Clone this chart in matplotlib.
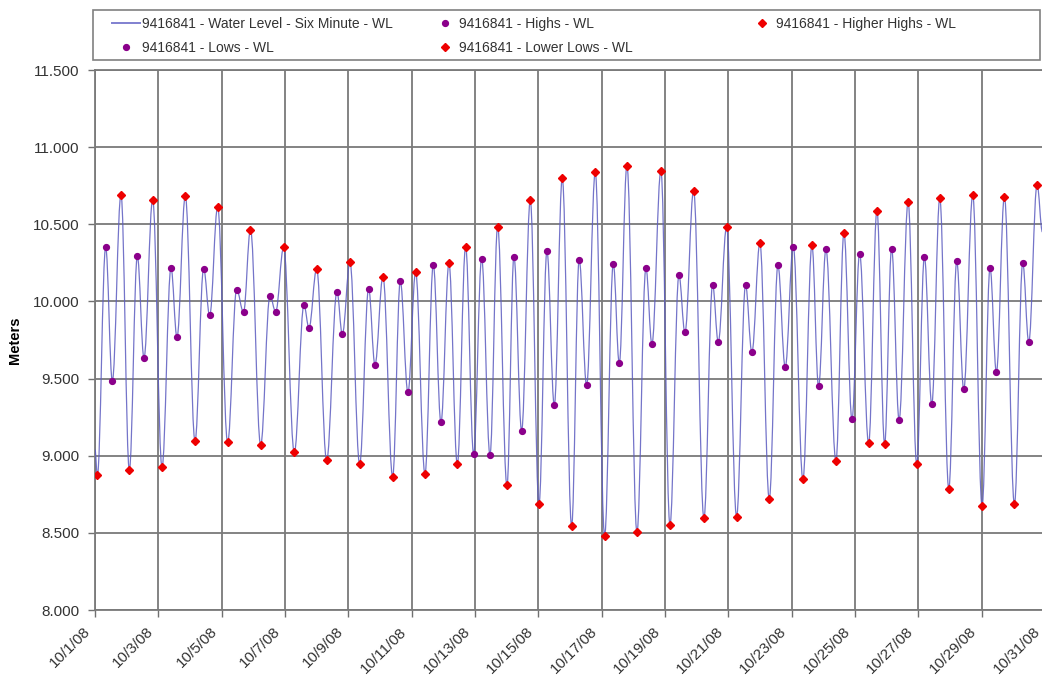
import matplotlib
matplotlib.use('Agg')
import matplotlib.pyplot as plt
import matplotlib.transforms as mtransforms
from matplotlib.path import Path
from matplotlib.patches import PathPatch, Rectangle
from matplotlib.lines import Line2D

plt.rcParams['font.family'] = ['Liberation Sans', 'DejaVu Sans']

# tide extremes, station 9416841, October 2008
# day = day of month (fractional), level in meters
tide_day = [
    1.074, 1.337, 1.547, 1.821, 2.084, 2.337, 2.547, 2.821, 3.116, 3.400,
    3.589, 3.852, 4.158, 4.431, 4.621, 4.873, 5.189, 5.473, 5.690, 5.910,
    6.231, 6.526, 6.705, 6.957, 7.294, 7.599, 7.757, 8.000, 8.315, 8.641,
    8.810, 9.052, 9.357, 9.641, 9.841, 10.094, 10.399, 10.641, 10.883, 11.125,
    11.420, 11.683, 11.925, 12.178, 12.441, 12.704, 12.957, 13.210, 13.473, 13.715,
    14.009, 14.230, 14.472, 14.746, 15.020, 15.272, 15.504, 15.756, 16.051, 16.290,
    16.525, 16.798, 17.093, 17.367, 17.556, 17.798, 18.114, 18.398, 18.587, 18.871,
    19.156, 19.440, 19.630, 19.903, 20.229, 20.503, 20.682, 20.945, 21.260, 21.544,
    21.744, 21.997, 22.292, 22.566, 22.797, 23.050, 23.355, 23.640, 23.850, 24.082,
    24.398, 24.651, 24.904, 25.146, 25.430, 25.693, 25.935, 26.156, 26.393, 26.677,
    26.950, 27.192, 27.424, 27.677, 27.961, 28.213, 28.434, 28.718, 29.013, 29.265,
    29.465, 29.718, 30.034, 30.297, 30.487, 30.750,
]
tide_level = [
    8.872, 10.350, 9.486, 10.692, 8.908, 10.292, 9.635, 10.659, 8.926, 10.216,
    9.769, 10.683, 9.096, 10.212, 9.909, 10.612, 9.086, 10.076, 9.931, 10.465,
    9.070, 10.037, 9.933, 10.350, 9.021, 9.976, 9.829, 10.210, 8.969, 10.063,
    9.788, 10.253, 8.947, 10.082, 9.591, 10.160, 8.865, 10.130, 9.410, 10.188,
    8.882, 10.236, 9.217, 10.246, 8.945, 10.352, 9.012, 10.277, 9.006, 10.484,
    8.807, 10.290, 9.163, 10.655, 8.686, 10.326, 9.328, 10.798, 8.545, 10.270,
    9.457, 10.837, 8.482, 10.244, 9.600, 10.880, 8.504, 10.216, 9.725, 10.847,
    8.552, 10.169, 9.799, 10.718, 8.595, 10.108, 9.738, 10.482, 8.606, 10.104,
    9.671, 10.378, 8.720, 10.233, 9.574, 10.355, 8.848, 10.363, 9.449, 10.337,
    8.967, 10.443, 9.237, 10.309, 9.081, 10.588, 9.077, 10.342, 9.233, 10.642,
    8.945, 10.288, 9.334, 10.668, 8.785, 10.259, 9.431, 10.690, 8.675, 10.216,
    9.542, 10.679, 8.686, 10.249, 9.738, 10.757,
]
# H = high, L = low, HH = higher high, LL = lower low
tide_kind = [
    'LL', 'H', 'L', 'HH', 'LL', 'H', 'L', 'HH', 'LL', 'H',
    'L', 'HH', 'LL', 'H', 'L', 'HH', 'LL', 'H', 'L', 'HH',
    'LL', 'H', 'L', 'HH', 'LL', 'H', 'L', 'HH', 'LL', 'H',
    'L', 'HH', 'LL', 'H', 'L', 'HH', 'LL', 'H', 'L', 'HH',
    'LL', 'H', 'L', 'HH', 'LL', 'HH', 'L', 'H', 'L', 'HH',
    'LL', 'H', 'L', 'HH', 'LL', 'H', 'L', 'HH', 'LL', 'H',
    'L', 'HH', 'LL', 'H', 'L', 'HH', 'LL', 'H', 'L', 'HH',
    'LL', 'H', 'L', 'HH', 'LL', 'H', 'L', 'HH', 'LL', 'H',
    'L', 'HH', 'LL', 'H', 'L', 'H', 'LL', 'HH', 'L', 'H',
    'LL', 'HH', 'L', 'H', 'LL', 'HH', 'LL', 'H', 'L', 'HH',
    'LL', 'H', 'L', 'HH', 'LL', 'H', 'L', 'HH', 'LL', 'H',
    'L', 'HH', 'LL', 'H', 'L', 'HH',
]

# first and last six-minute readings shown
wl_first = (1.00, 9.04)
wl_last = (30.92, 10.45)

station = '9416841'
tick_days = list(range(1, 32, 2))
tick_labels = ['10/%d/08' % d for d in tick_days]
y_ticks = [8.0, 8.5, 9.0, 9.5, 10.0, 10.5, 11.0, 11.5]

W, H = 1042, 676
fig = plt.figure(figsize=(W / 100, H / 100), dpi=100)
ax = fig.add_axes([95 / W, (H - 610) / H, (1045 - 95) / W, 540 / H])

# smooth water-level trace through the extremes (bezier, flat at each turn)
xs = [wl_first[0]] + tide_day + [wl_last[0]]
ys = [wl_first[1]] + tide_level + [wl_last[1]]
verts = [(xs[0], ys[0])]
codes = [Path.MOVETO]
for i in range(1, len(xs)):
    dx = xs[i] - xs[i - 1]
    verts += [(xs[i - 1] + 0.38 * dx, ys[i - 1]),
              (xs[i] - 0.38 * dx, ys[i]),
              (xs[i], ys[i])]
    codes += [Path.CURVE4] * 3
ax.add_patch(PathPatch(Path(verts, codes), facecolor='none',
                       edgecolor='#5c5cc0', lw=0.9, alpha=0.85, zorder=3))

styles = {
    'H': dict(marker='o', color='#8b008b', ms=4.2),
    'L': dict(marker='o', color='#8b008b', ms=4.2),
    'HH': dict(marker='D', color='#ee0000', ms=3.6),
    'LL': dict(marker='D', color='#ee0000', ms=3.6),
}
for kind, st in styles.items():
    px = [d for d, k in zip(tide_day, tide_kind) if k == kind]
    py = [v for v, k in zip(tide_level, tide_kind) if k == kind]
    ax.plot(px, py, ls='none', marker=st['marker'], ms=st['ms'],
            mfc=st['color'], mec=st['color'], zorder=4)

ax.set_xlim(1, 31)
ax.set_ylim(8.0, 11.5)
ax.set_xticks(tick_days)
ax.set_yticks(y_ticks)
ax.set_yticklabels(['%.3f' % v for v in y_ticks], fontsize=11)
ax.tick_params(axis='both', direction='out', length=5, color='#707070',
               width=1, labelcolor='#333333')
ax.tick_params(axis='y', pad=6)
ax.tick_params(axis='x', pad=4)
ax.set_xticklabels(tick_labels, rotation=45, ha='right', va='top',
                   rotation_mode='anchor', fontsize=11)
# nudge the slanted date labels left of their ticks
shift = mtransforms.ScaledTranslation(-12 / 100, -2 / 100, fig.dpi_scale_trans)
for lab in ax.get_xticklabels():
    lab.set_transform(lab.get_transform() + shift)
ax.grid(True, color='#7a7a7a', lw=1.3, zorder=1)
ax.set_axisbelow(True)
for s in ax.spines.values():
    s.set_color('#7a7a7a')
    s.set_linewidth(1.3)
ax.set_ylabel('Meters', fontsize=10.5, fontweight='bold', labelpad=8)

# legend box with three fixed columns
fig.add_artist(Rectangle((93 / W, 1 - 60 / H), (1040 - 93) / W, 50 / H,
                         transform=fig.transFigure, facecolor='white',
                         edgecolor='#808080', lw=1.2))
mk = dict(ls='none', ms=4.2)
col1 = [Line2D([], [], color='#8080d0', lw=1.4),
        Line2D([], [], marker='o', mfc='#8b008b', mec='#8b008b', **mk)]
col1_lab = [station + ' - Water Level - Six Minute - WL', station + ' - Lows - WL']
col2 = [Line2D([], [], marker='o', mfc='#8b008b', mec='#8b008b', **mk),
        Line2D([], [], marker='D', mfc='#ee0000', mec='#ee0000', ls='none', ms=3.6)]
col2_lab = [station + ' - Highs - WL', station + ' - Lower Lows - WL']
col3 = [Line2D([], [], marker='D', mfc='#ee0000', mec='#ee0000', ls='none', ms=3.6)]
col3_lab = [station + ' - Higher Highs - WL']

for hs, ls, x0, hl, tp in [(col1, col1_lab, 112, 2.0, 0.15),
                           (col2, col2_lab, 438, 1.0, 0.5),
                           (col3, col3_lab, 755, 1.0, 0.5)]:
    fig.legend(hs, ls, loc='upper left', bbox_to_anchor=(x0 / W, 1 - 17 / H),
               frameon=False, fontsize=10, handlelength=hl, handletextpad=tp,
               labelspacing=0.74, borderpad=0, borderaxespad=0,
               labelcolor='#333333')

fig.savefig('out.png', dpi=100)
